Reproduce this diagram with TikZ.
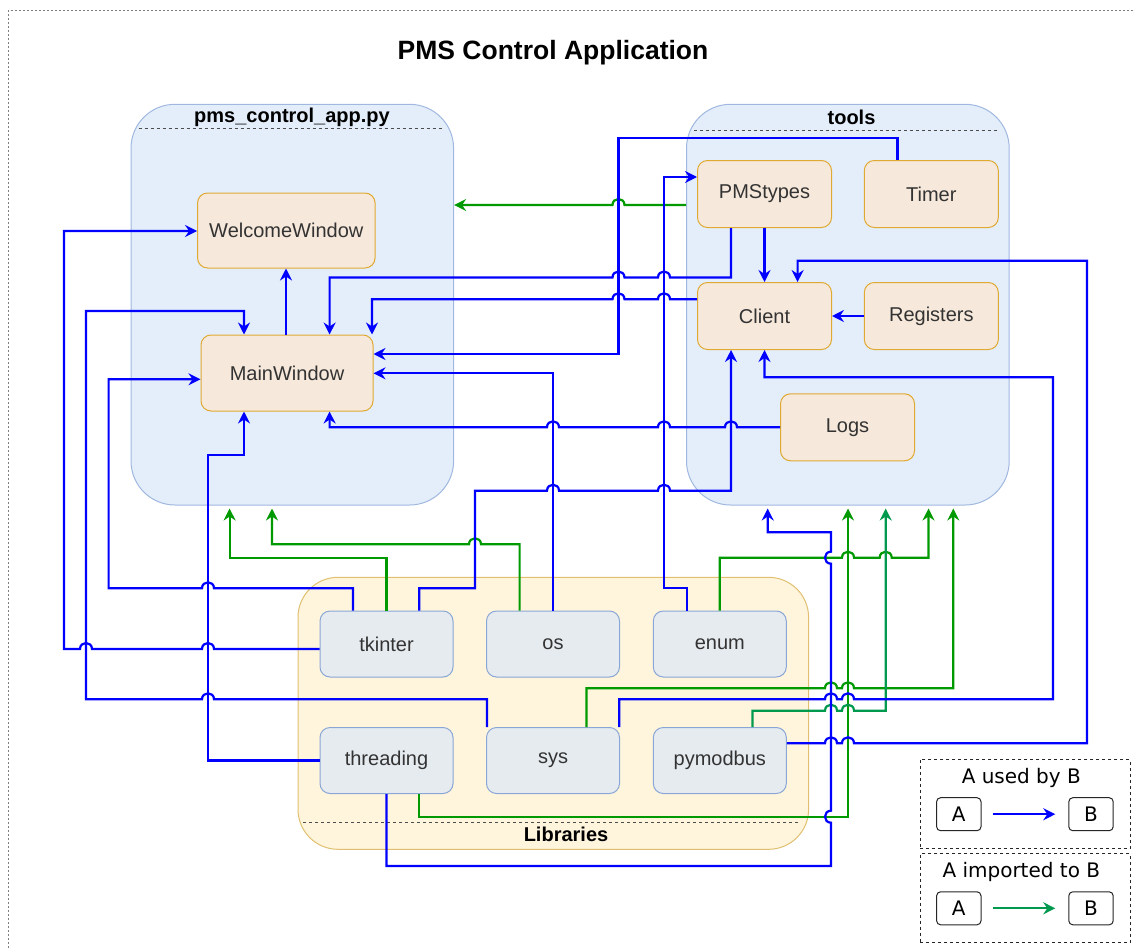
\documentclass[tikz,border=0pt]{standalone}
\usepackage{fontspec}
\setmainfont{Liberation Sans}
\newfontfamily\legendfont{DejaVu Sans}
\usetikzlibrary{arrows.meta}

\definecolor{usedblue}{RGB}{0,0,255}
\definecolor{impgreen}{RGB}{0,153,0}
\definecolor{impteal}{RGB}{0,153,77}
\definecolor{contfill}{RGB}{228,238,251}
\definecolor{contline}{RGB}{160,184,224}
\definecolor{clsfill}{RGB}{246,232,218}
\definecolor{clsline}{RGB}{224,170,50}
\definecolor{libfill}{RGB}{255,245,220}
\definecolor{libline}{RGB}{224,192,112}
\definecolor{modfill}{RGB}{230,235,240}
\definecolor{modline}{RGB}{138,166,214}
\definecolor{txt}{RGB}{51,51,51}

% line jumps: hop over a vertical line while running right / left,
% bump to the left over a horizontal line while running up
\newcommand\hopR[2]{-- ({#1-6},#2) .. controls ({#1-6},{#2-8}) and ({#1+6},{#2-8}) .. ({#1+6},#2)}
\newcommand\hopL[2]{-- ({#1+6},#2) .. controls ({#1+6},{#2-8}) and ({#1-6},{#2-8}) .. ({#1-6},#2)}
\newcommand\bumpU[2]{-- (#1,{#2+6}) .. controls ({#1-8},{#2+6}) and ({#1-8},{#2-6}) .. (#1,{#2-6})}

\tikzset{
  cont/.style={draw=contline, fill=contfill, line width=1pt, rounded corners=44pt, inner sep=0pt},
  libc/.style={draw=libline, fill=libfill, line width=1pt, rounded corners=40pt, inner sep=0pt},
  ctitle/.style={font=\bfseries\fontsize{20}{24}\selectfont, text=black, inner sep=0pt},
  sep/.style={draw=gray!60!black, line width=0.9pt, dash pattern=on 3pt off 3pt},
  cls/.style={draw=clsline, fill=clsfill, line width=1pt, rounded corners=10pt, text=txt,
    font=\fontsize{20}{24}\selectfont, minimum width=134pt, minimum height=67pt, inner sep=0pt},
  mod/.style={draw=modline, fill=modfill, line width=1pt, rounded corners=10pt, text=txt,
    font=\fontsize{20}{24}\selectfont, minimum width=133pt, minimum height=66pt, inner sep=0pt},
  used/.style={draw=usedblue, line width=2.2pt, ->},
  imp/.style={draw=impgreen, line width=2.2pt, ->},
  impt/.style={draw=impteal, line width=2.2pt, ->},
  tocont/.style={shorten >=3pt},
  legbox/.style={draw=black!85, line width=1pt, dash pattern=on 3pt off 3pt, inner sep=0pt,
    minimum width=210.2pt, minimum height=89pt},
  legtext/.style={font=\legendfont\fontsize{20}{24}\selectfont, text=black, inner sep=0pt},
  legitem/.style={draw=black!85, fill=white, line width=1pt, rounded corners=4pt,
    font=\legendfont\fontsize{20}{24}\selectfont, minimum width=44.4pt, minimum height=33pt, inner sep=0pt},
}

\begin{document}
\begin{tikzpicture}[x=1pt, y=-1pt, line join=miter,
  >={Stealth[length=12pt,width=12pt,inset=4pt]}]
\useasboundingbox (0,0) rectangle (1135,950);

% page frame
\draw[gray, line width=0.8pt, dash pattern=on 2pt off 2pt] (8.6,960) |- (1145,10);

\node[font=\bfseries\fontsize{26.5}{30}\selectfont, inner sep=0pt] (title) at (553,53) {PMS Control Application};

% containers
\node[cont, minimum width=322.6pt, minimum height=400.7pt] (pms) at (292.3,304.65) {};
\node[cont, minimum width=322.7pt, minimum height=400.7pt] (tools) at (847.85,304.65) {};
\node[libc, minimum width=510.6pt, minimum height=272pt] (libs) at (553.3,713.3) {};

\node[ctitle] (pmsT) at (292,117) {pms\_control\_app.py};
\draw[sep] (138.6,128.5) -- (443,128.5);
\node[ctitle] (toolsT) at (851.5,117) {tools};
\draw[sep] (694,130) -- (998,130);
\node[ctitle] (libsT) at (566,834) {Libraries};
\draw[sep] (303,822.7) -- (800.7,822.7);

% classes
\node[cls, minimum width=177.5pt, minimum height=75pt] (welcome) at (286.3,230.5) {WelcomeWindow};
\node[cls, minimum width=172pt, minimum height=76pt] (main) at (287,373) {MainWindow};
\node[cls] (pmstypes) at (764.5,194) {PMStypes};
\node[cls] (timer) at (931.3,194) {Timer};
\node[cls] (client) at (764.5,316) {Client};
\node[cls] (registers) at (931.3,316) {Registers};
\node[cls] (logs) at (847.5,427.3) {Logs};

% library modules
\node[mod] (tkinter) at (386.5,644) {tkinter};
\node[mod] (os) at (553,644) {os};
\node[mod] (enum) at (719.8,644) {enum};
\node[mod] (threading) at (386.5,760.5) {threading};
\node[mod] (sys) at (553,760.5) {sys};
\node[mod] (pymodbus) at (719.8,760.5) {pymodbus};

% ---- imports (green)
\draw[imp] (tools.west |- 0,205) \hopL{618.5}{205} -- (pms.east |- 0,205);
\draw[imp, tocont] (tkinter.north) -- (386.5,557.7) -- (229.6,557.7) -- (pms.south -| 229.6,0);
\draw[imp, tocont] (os.north -| 519.6,0) -- (519.6,544.3) \hopL{475}{544.3} -- (272,544.3) -- (pms.south -| 272,0);
\draw[imp, tocont] (threading.south -| 419.3,0) -- (419.3,816.7) -- (848,816.7) -- (tools.south -| 848,0);
\draw[imp, tocont] (enum.north) -- (719.8,557.7) \hopR{848}{557.7} \hopR{885.7}{557.7} -- (928.5,557.7) -- (tools.south -| 928.5,0);
\draw[imp, tocont] (sys.north -| 586.4,0) -- (586.4,688.3) \hopR{831}{688.3} \hopR{848}{688.3} -- (953.3,688.3) -- (tools.south -| 953.3,0);
\draw[impt, tocont] (pymodbus.north -| 752.5,0) -- (752.5,710.7) \hopR{831}{710.7} \hopR{848}{710.7} -- (885.7,710.7) -- (tools.south -| 885.7,0);

% ---- usage (blue)
\draw[used] (main.north -| 286,0) -- (welcome.south -| 286,0);
\draw[used] (tkinter.west |- 0,649) \hopL{208}{649} \hopL{86}{649} -- (64,649) -- (64,231) -- (welcome.west |- 0,231);
\draw[used] (tkinter.north -| 353,0) -- (353,588.3) \hopL{208}{588.3} -- (108.6,588.3) -- (108.6,379.3) -- (main.west |- 0,379.3);
\draw[used] (tkinter.north -| 419.3,0) -- (419.3,588.3) -- (475,588.3) -- (475,490.7) \hopR{553}{490.7} \hopR{664}{490.7} -- (731,490.7) -- (client.south -| 731,0);
\draw[used] (sys.north -| 487,0) -- (487,699.3) \hopL{208}{699.3} -- (86,699.3) -- (86,311) -- (244,311) -- (main.north -| 244,0);
\draw[used] (threading.west) -- (208,760.5) -- (208,455) -- (244,455) -- (main.south -| 244,0);
\draw[used, tocont] (threading.south) -- (386.5,866) -- (831,866) \bumpU{831}{816.7} \bumpU{831}{557.7} -- (831,532.3) -- (767.7,532.3) -- (tools.south -| 767.7,0);
\draw[used] (timer.north -| 897.4,0) -- (897.4,138.3) -- (618.5,138.3) -- (618.5,354) -- (main.east |- 0,354);
\draw[used] (os.north) -- (553,373.3) -- (main.east |- 0,373.3);
\draw[used] (enum.north -| 687,0) -- (687,588.3) -- (664,588.3) -- (664,177) -- (pmstypes.west |- 0,177);
\draw[used] (pmstypes.south -| 731,0) -- (731,277.5) \hopL{664}{277.5} \hopL{618.5}{277.5} -- (329.6,277.5) -- (main.north -| 329.6,0);
\draw[used] (pmstypes.south) -- (client.north);
\draw[used] (client.west |- 0,299.3) \hopL{664}{299.3} \hopL{618.5}{299.3} -- (372,299.3) -- (main.north -| 372,0);
\draw[used] (registers.west) -- (client.east);
\draw[used] (logs.west) \hopL{731}{427.3} \hopL{664}{427.3} \hopL{553}{427.3} -- (329.6,427.3) -- (main.south -| 329.6,0);
\draw[used] (sys.north -| 619.3,0) -- (619.3,699.3) \hopR{831}{699.3} \hopR{848}{699.3} -- (1053,699.3) -- (1053,377.3) -- (764.5,377.3) -- (client.south);
\draw[used] (pymodbus.east |- 0,743.3) \hopR{831}{743.3} \hopR{848}{743.3} -- (1087,743.3) -- (1087,260.7) -- (797.6,260.7) -- (client.north -| 797.6,0);

% ---- legend
\node[legbox] (leg1) at (1025.1,803.8) {};
\node[legtext] (leg1t) at (1021.3,778.3) {A used by B};
\node[legitem] (leg1a) at (958.8,814.2) {A};
\node[legitem] (leg1b) at (1091,814.2) {B};
\draw[used, shorten <=11pt, shorten >=13pt] (leg1a.east) -- (leg1b.west);

\node[legbox] (leg2) at (1025.1,898.4) {};
\node[legtext] (leg2t) at (1021.3,872.3) {A imported to B};
\node[legitem] (leg2a) at (958.8,908.3) {A};
\node[legitem] (leg2b) at (1091,908.3) {B};
\draw[impt, shorten <=11pt, shorten >=13pt] (leg2a.east) -- (leg2b.west);
\end{tikzpicture}
\end{document}
